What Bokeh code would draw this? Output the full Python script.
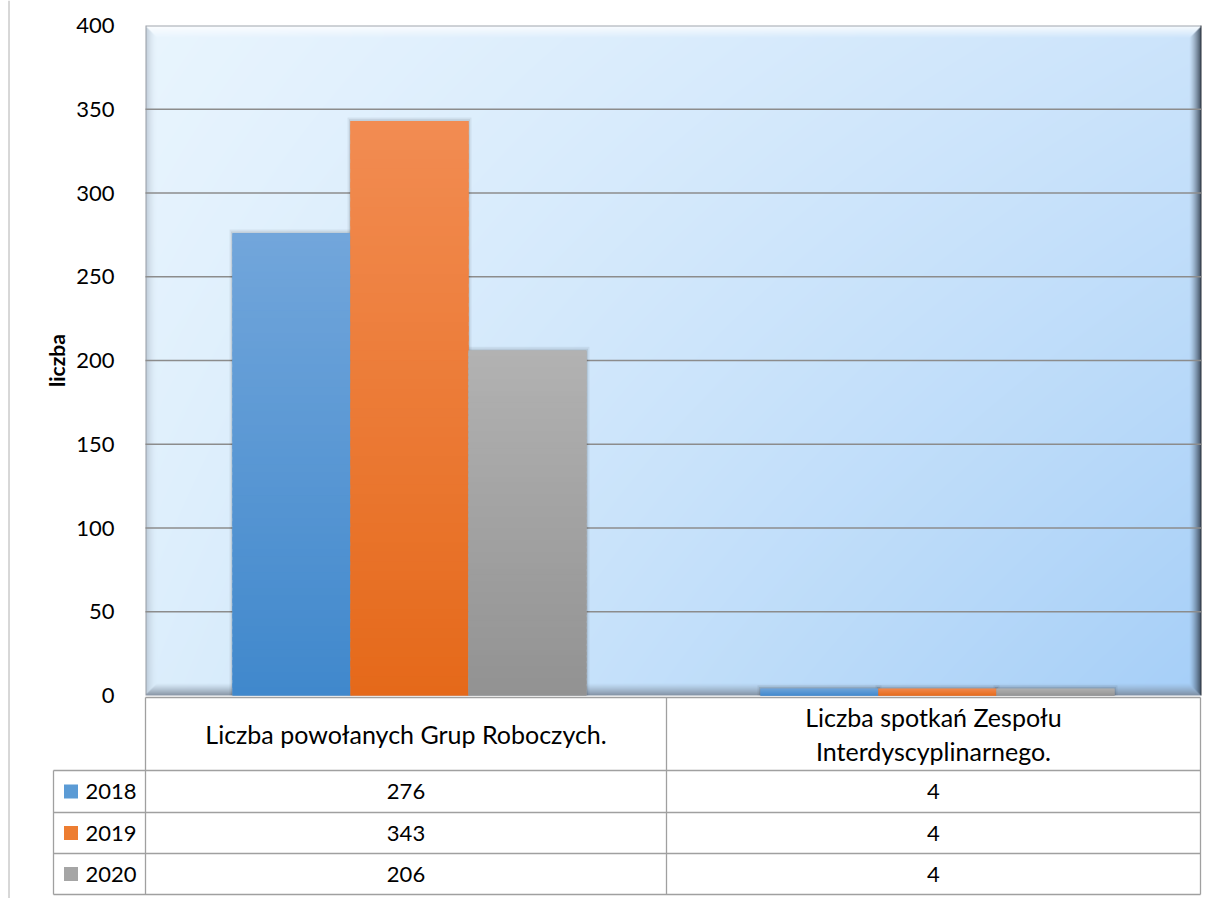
import numpy as np
from bokeh.plotting import figure
from bokeh.models import Range1d, LinearAxis, FixedTicker
from bokeh.embed import file_html
from bokeh.resources import INLINE
from bokeh.core.properties import value

# ---------------- data ----------------
categories = ["Liczba powołanych Grup Roboczych.",
              "Liczba spotkań Zespołu\nInterdyscyplinarnego."]
years = ["2018", "2019", "2020"]
v2018 = [276, 4]
v2019 = [343, 4]
v2020 = [206, 4]
y_ticks = [0, 50, 100, 150, 200, 250, 300, 350, 400]
axis_title = "liczba"

series = [v2018, v2019, v2020]
top_cols = [(114, 166, 219), (242, 140, 82), (178, 178, 178)]
bot_cols = [(64, 136, 204), (229, 105, 26), (146, 146, 146)]
legend_cols = ["#5b9bd5", "#ed7d31", "#a5a5a5"]

FONT_NAME = "Lato"
FONT = value(FONT_NAME)
FS_NUM = "22px"
FS_TXT = "25px"

# --------- page-pixel helpers (layout only) ---------
PX0, PXU = 145.0, 528.0          # x: category units
PY0, PYU = 695.0, 670.0 / 400.0  # y: value units
def X(px): return (px - PX0) / PXU
def Y(py): return (PY0 - py) / PYU

W_FIG, H_FIG = 1214, 898
p = figure(width=W_FIG, height=H_FIG, output_backend="svg", toolbar_location=None,
           x_range=Range1d(X(0), X(W_FIG)), y_range=Range1d(Y(H_FIG), Y(0)),
           x_axis_type=None, y_axis_type=None, min_border=0, title=None)
p.outline_line_color = None
p.background_fill_color = "white"
p.border_fill_color = "white"

# --------- plot-area background (gradient + bevel) ---------
H, W = 670, 1056
u = np.linspace(0, 1, W)[None, :, None]
v = np.linspace(0, 1, H)[:, None, None]
TL = np.array([233, 245, 254.0]); TR = np.array([204, 228, 251.0])
BL = np.array([220, 238, 252.0]); BR = np.array([166, 207, 248.0])
base = (1 - u) * (1 - v) * TL + u * (1 - v) * TR + (1 - u) * v * BL + u * v * BR
ii = np.arange(W)[None, :].repeat(H, 0)
jj = np.arange(H)[:, None].repeat(W, 1)
d = np.stack([jj, W - 1 - ii, H - 1 - jj, ii])  # top,right,bottom,left
edge = d.argmin(0)
dmin = d.min(0)
b = 12.0
s = np.clip(1 - dmin / b, 0, 1)[:, :, None]
col = base.copy()
white = np.array([255, 255, 255.0]); dark = np.array([52, 64, 80.0])
gbot = np.array([118, 130, 146.0]); gleft = np.array([165, 176, 190.0])
m = (edge == 0)[:, :, None]; col = np.where(m, base + (white - base) * 0.85 * s, col)
m = (edge == 1)[:, :, None]; col = np.where(m, base + (dark - base) * 0.9 * s ** 1.4, col)
m = (edge == 2)[:, :, None]; col = np.where(m, base + (gbot - base) * 0.8 * s ** 1.2, col)
m = (edge == 3)[:, :, None]; col = np.where(m, base + (gleft - base) * 0.6 * s ** 2, col)
col[0, :, :] = (160, 166, 174); col[:, 0, :] = (150, 156, 165); col[:, -1, :] = (40, 48, 58)
rgba = np.zeros((H, W, 4), dtype=np.uint8)
rgba[:, :, :3] = np.clip(col, 0, 255).astype(np.uint8)
rgba[:, :, 3] = 255
img = rgba.view(dtype=np.uint32).reshape(H, W)[::-1]
p.image_rgba(image=[img], x=0, y=0, dw=2, dh=400)

# --------- grid lines ---------
grid_vals = [t for t in y_ticks if 0 < t < 400]
p.segment(x0=[0] * len(grid_vals), x1=[2] * len(grid_vals), y0=grid_vals, y1=grid_vals,
          line_color="#8c8c8c", line_width=1.4)

# --------- bars ---------
bw = 118.0 / PXU
offsets = [-bw, 0.0, bw]
N = 60
# soft shadows behind each group
for k, vals in enumerate(series):
    xc = [c + 0.5 + offsets[k] for c in range(len(vals))]
    for grow, alpha in [(6.0, 0.06), (3.0, 0.08)]:
        p.vbar(x=xc, bottom=0, top=[vv + grow / PYU * 0.6 for vv in vals],
               width=bw + grow / PXU, fill_color="black", fill_alpha=alpha, line_color=None)
for k, vals in enumerate(series):
    xc = [c + 0.5 + offsets[k] for c in range(len(vals))]
    mid = "#%02x%02x%02x" % tuple((top_cols[k][q] + bot_cols[k][q]) // 2 for q in range(3))
    p.vbar(x=xc, bottom=0, top=vals, width=bw, fill_color=mid, line_color=None)
    xs, bots, tops, cols = [], [], [], []
    for c, val in enumerate(vals):
        for n in range(N):
            f0, f1 = n / N, (n + 1) / N
            t = (f0 + f1) / 2
            rgb = tuple(int(round(bot_cols[k][q] + (top_cols[k][q] - bot_cols[k][q]) * t)) for q in range(3))
            xs.append(xc[c]); bots.append(val * f0); tops.append(min(val, val * f1 + val / N * 0.6))
            cols.append("#%02x%02x%02x" % rgb)
    p.vbar(x=xs, bottom=bots, top=tops, width=bw, fill_color=cols, line_color=None)

# --------- y axis ---------
ax = LinearAxis(ticker=FixedTicker(ticks=y_ticks), fixed_location=0, bounds=(0, 400),
                axis_line_color=None, major_tick_line_color=None, minor_tick_line_color=None,
                major_label_standoff=25, major_label_text_font=FONT_NAME,
                major_label_text_font_size=FS_NUM, major_label_text_color="#000000",
                axis_label=axis_title, axis_label_text_font=FONT_NAME,
                axis_label_text_font_size="21px", axis_label_text_font_style="bold",
                axis_label_text_color="#000000", axis_label_standoff=4)
p.add_layout(ax, "left")

# --------- data table ---------
lc = "#a0a0a0"
row_edges = [770, 812, 853, 894]
hseg_x0 = [X(145), X(53), X(53), X(53), X(53)]
hseg_x1 = [X(1200)] * 5
hseg_y = [Y(697)] + [Y(r) for r in row_edges]
p.segment(x0=hseg_x0, x1=hseg_x1, y0=hseg_y, y1=hseg_y, line_color=lc, line_width=1.3)
vx = [X(53), X(145), X(666), X(1200)]
vy0 = [Y(770), Y(697), Y(697), Y(697)]
vy1 = [Y(894)] * 4
p.segment(x0=vx, x1=vx, y0=vy0, y1=vy1, line_color=lc, line_width=1.3)

# left chart border
p.segment(x0=[X(8.5)], x1=[X(8.5)], y0=[Y(0)], y1=[Y(898)], line_color="#b0b0b0", line_width=1)

# header labels
col_centers = [X(405.5), X(933)]
p.text(x=col_centers, y=[Y(733.5), Y(733.5)], text=categories, text_font=FONT,
       text_font_size=FS_TXT, text_align="center", text_baseline="middle",
       text_color="#000000", text_line_height=1.16)

# rows
row_centers = [Y((row_edges[i] + row_edges[i + 1]) / 2) for i in range(3)]
for k, vals in enumerate(series):
    p.text(x=col_centers, y=[row_centers[k]] * len(vals), text=[str(vv) for vv in vals],
           text_font=FONT, text_font_size=FS_NUM, text_align="center", text_baseline="middle",
           text_color="#000000")
p.scatter(x=[X(70.5)] * 3, y=row_centers, marker="square", size=14,
          fill_color=legend_cols, line_color=None)
p.text(x=[X(85)] * 3, y=row_centers, text=years, text_font=FONT, text_font_size=FS_NUM,
       text_align="left", text_baseline="middle", text_color="#000000")

open("out.html", "w").write(file_html(p, INLINE))
